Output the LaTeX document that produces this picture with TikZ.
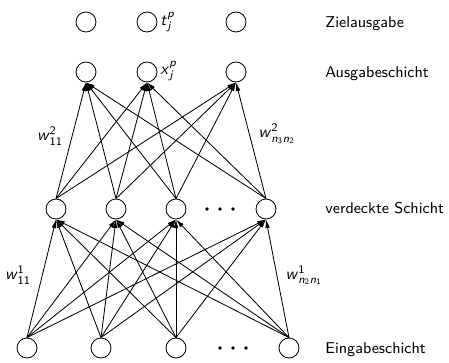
\documentclass[tikz,border=0pt]{standalone}
\usepackage{amsmath}
\usepackage{tikz}
\usetikzlibrary{arrows.meta}

\newcommand{\sv}[1]{\textsf{\textit{#1}}}
\newcommand{\sz}[1]{\textsf{#1}}

\tikzset{
  neuron/.style={draw, circle, minimum size=12pt, inner sep=0pt},
  verbindung/.style={-{Latex[length=5.2pt,width=2.8pt]}},
  schicht/.style={anchor=base west, inner sep=0pt, font=\sffamily\fontsize{9.4}{11}\selectfont}
}

\begin{document}
\begin{tikzpicture}[x=0.6pt, y=-0.6pt, line width=0.5pt]
\useasboundingbox (0,0) rectangle (449,363) ;
% Zielausgabe
\node[neuron] (Z1) at (86,22) {} ;
\node[neuron] (Z2) at (147,22) {} ;
\node[neuron] (Z3) at (236,22) {} ;
% Ausgabeschicht
\node[neuron] (A1) at (86,72) {} ;
\node[neuron] (A2) at (147,72) {} ;
\node[neuron] (A3) at (236,72) {} ;
% verdeckte Schicht
\node[neuron] (V1) at (56,209) {} ;
\node[neuron] (V2) at (116,209) {} ;
\node[neuron] (V3) at (176,209) {} ;
\node[neuron] (V4) at (266,209) {} ;
% Eingabeschicht
\node[neuron] (E1) at (27,348) {} ;
\node[neuron] (E2) at (101,348) {} ;
\node[neuron] (E3) at (176,348) {} ;
\node[neuron] (E4) at (289,348) {} ;
% Punkte
\foreach \d in {-13,0,13} {
  \fill (220+\d,209) circle (1.8) ;
  \fill (233+\d,348) circle (1.8) ;
}
% Verbindungen
\foreach \i in {1,...,4}
  \foreach \j in {1,...,4}
    \draw[verbindung] (E\i.north) -- (V\j.south) ;
\foreach \i in {1,...,4}
  \foreach \j in {1,...,3}
    \draw[verbindung] (V\i.north) -- (A\j.south) ;
% Beschriftungen
\node[anchor=west, inner sep=0pt] (t) at (160,22) {$\sv{t}_{\sv{j}}^{\sv{p}}$} ;
\node[anchor=west, inner sep=0pt] (x) at (160,71) {$\sv{x}_{\sv{j}}^{\sv{p}}$} ;
\node (w211) at (50,136) {$\sv{w}_{\sz{11}}^{\sz{2}}$} ;
\node (w2nn) at (277,134) {$\sv{w}_{\sv{n}_{\sz{3}}\sv{n}_{\sz{2}}}^{\sz{2}}$} ;
\node (w111) at (18,275) {$\sv{w}_{\sz{11}}^{\sz{1}}$} ;
\node (w1nn) at (304,275) {$\sv{w}_{\sv{n}_{\sz{2}}\sv{n}_{\sz{1}}}^{\sz{1}}$} ;
\node[schicht] (L1) at (325,27) {Zielausgabe} ;
\node[schicht] (L2) at (325,77) {Ausgabeschicht} ;
\node[schicht] (L3) at (325,213) {verdeckte Schicht} ;
\node[schicht] (L4) at (325,353) {Eingabeschicht} ;
\end{tikzpicture}
\end{document}
